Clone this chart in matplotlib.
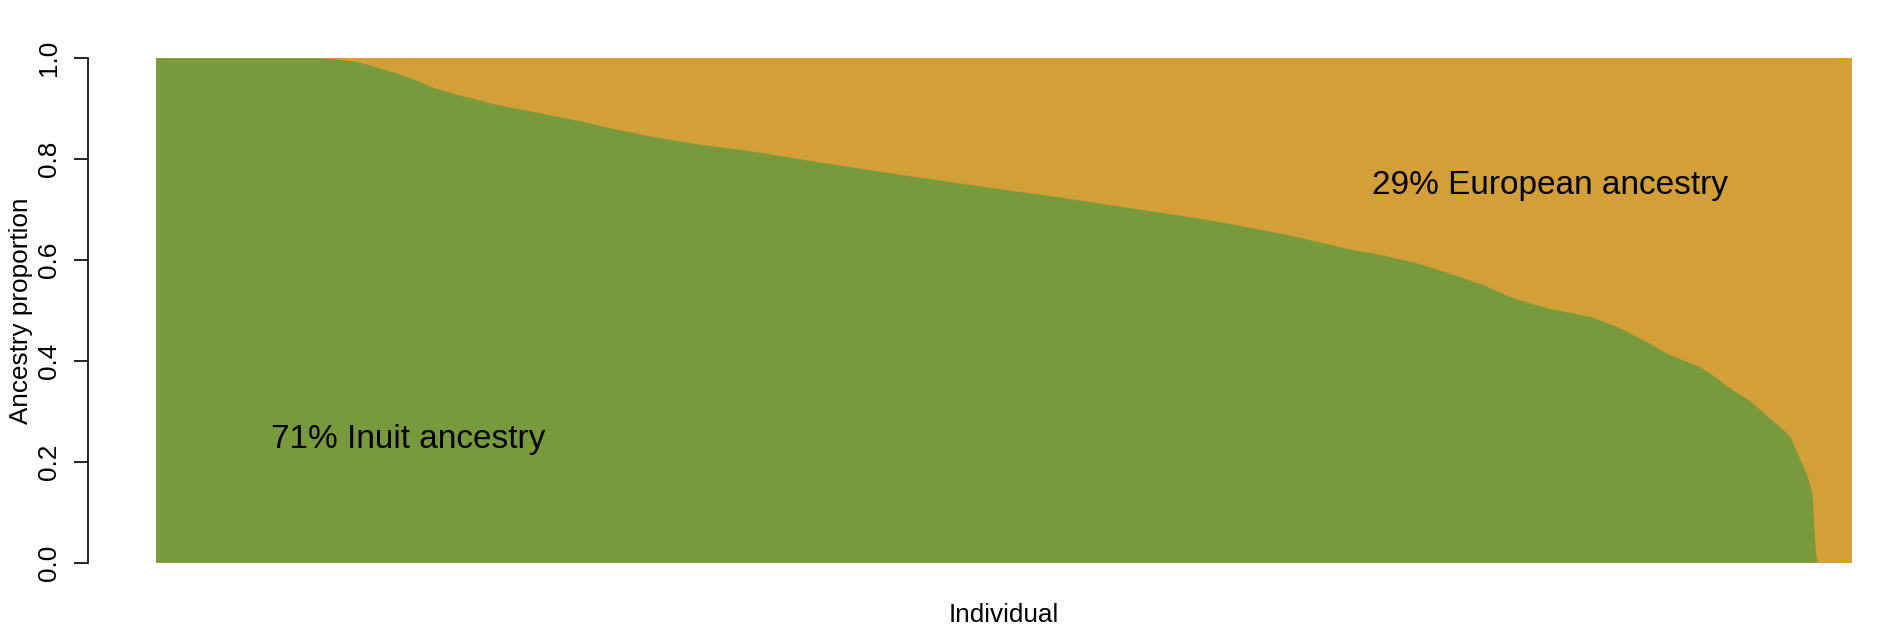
import matplotlib
matplotlib.use("Agg")
import matplotlib.pyplot as plt
import numpy as np

# Individuals sorted by Inuit ancestry; rank given as percent of individuals
rank_pct = [0.0, 9.6, 10.3, 11.4, 12.3, 13.2, 14.3, 15.5, 16.3, 17.7, 18.8, 19.9,
            21.1, 22.2, 24.0, 25.6, 26.7, 29.0, 30.2, 32.2, 35.0, 39.6, 44.1, 48.6,
            53.1, 57.6, 62.1, 66.7, 70.4, 72.4, 74.4, 76.3, 78.3, 79.9, 80.7, 82.2,
            84.6, 86.2, 88.1, 89.1, 91.1, 92.1, 93.0, 94.0, 95.0, 96.0, 96.4, 97.0,
            97.4, 97.7, 97.76, 97.88, 97.99, 100.0]
inuit = [1.0, 1.0, 0.999, 0.995, 0.989, 0.980, 0.969, 0.954, 0.942, 0.928, 0.919, 0.909,
         0.901, 0.894, 0.882, 0.871, 0.862, 0.846, 0.839, 0.828, 0.816, 0.791, 0.768, 0.746,
         0.725, 0.702, 0.679, 0.650, 0.621, 0.609, 0.593, 0.573, 0.550, 0.526, 0.517, 0.503,
         0.487, 0.467, 0.434, 0.414, 0.387, 0.364, 0.341, 0.321, 0.291, 0.262, 0.248, 0.202,
         0.172, 0.136, 0.089, 0.023, 0.0, 0.0]
european = [1.0 - v for v in inuit]

labels = ["71% Inuit ancestry", "29% European ancestry"]
label_pos = [(14.9, 0.227), (82.2, 0.730)]

GREEN = "#799A3C"
ORANGE = "#D39F38"

plt.rcParams['font.family'] = ['Liberation Sans', 'DejaVu Sans']

W, H = 1901, 634
fig = plt.figure(figsize=(W / 100, H / 100), dpi=100)
ax = fig.add_axes([156 / W, (H - 562.5) / H, 1695.7 / W, 504.2 / H])

x = np.array(rank_pct)
inu = np.array(inuit)
eur = np.array(european)
# stacked: European share on top of Inuit share; the orange layer is drawn
# as the full stack height underneath so the shared boundary has no seam
ax.fill_between(x, 0, inu + eur, facecolor=ORANGE, linewidth=0)
ax.fill_between(x, 0, inu, facecolor=GREEN, linewidth=0)

ax.set_xlim(0, 100)
ax.set_ylim(0, 1)

for s in ['top', 'right', 'bottom']:
    ax.spines[s].set_visible(False)
ax.spines['left'].set_position(('outward', 49))
ax.spines['left'].set_bounds(0, 1)
ax.spines['left'].set_linewidth(1.2)
ax.set_xticks([])
ax.set_yticks([0.0, 0.2, 0.4, 0.6, 0.8, 1.0])
ax.set_yticklabels(["0.0", "0.2", "0.4", "0.6", "0.8", "1.0"], rotation=90,
                   va='center', fontsize=18.8)
ax.tick_params(axis='y', length=10, width=1.2, pad=9.4)

for (tx, ty), lab in zip(label_pos, labels):
    ax.text(tx, ty, lab, ha='center', va='baseline', fontsize=24, color='black')

fig.text(1003.5 / W, (H - 622) / H, "Individual", ha='center', va='baseline', fontsize=18.8)
fig.text(28 / W, (H - 310.5) / H, "Ancestry proportion", rotation=90,
         rotation_mode='anchor', ha='center', va='baseline', fontsize=18.8)

fig.savefig("out.png", dpi=100, facecolor='white')
